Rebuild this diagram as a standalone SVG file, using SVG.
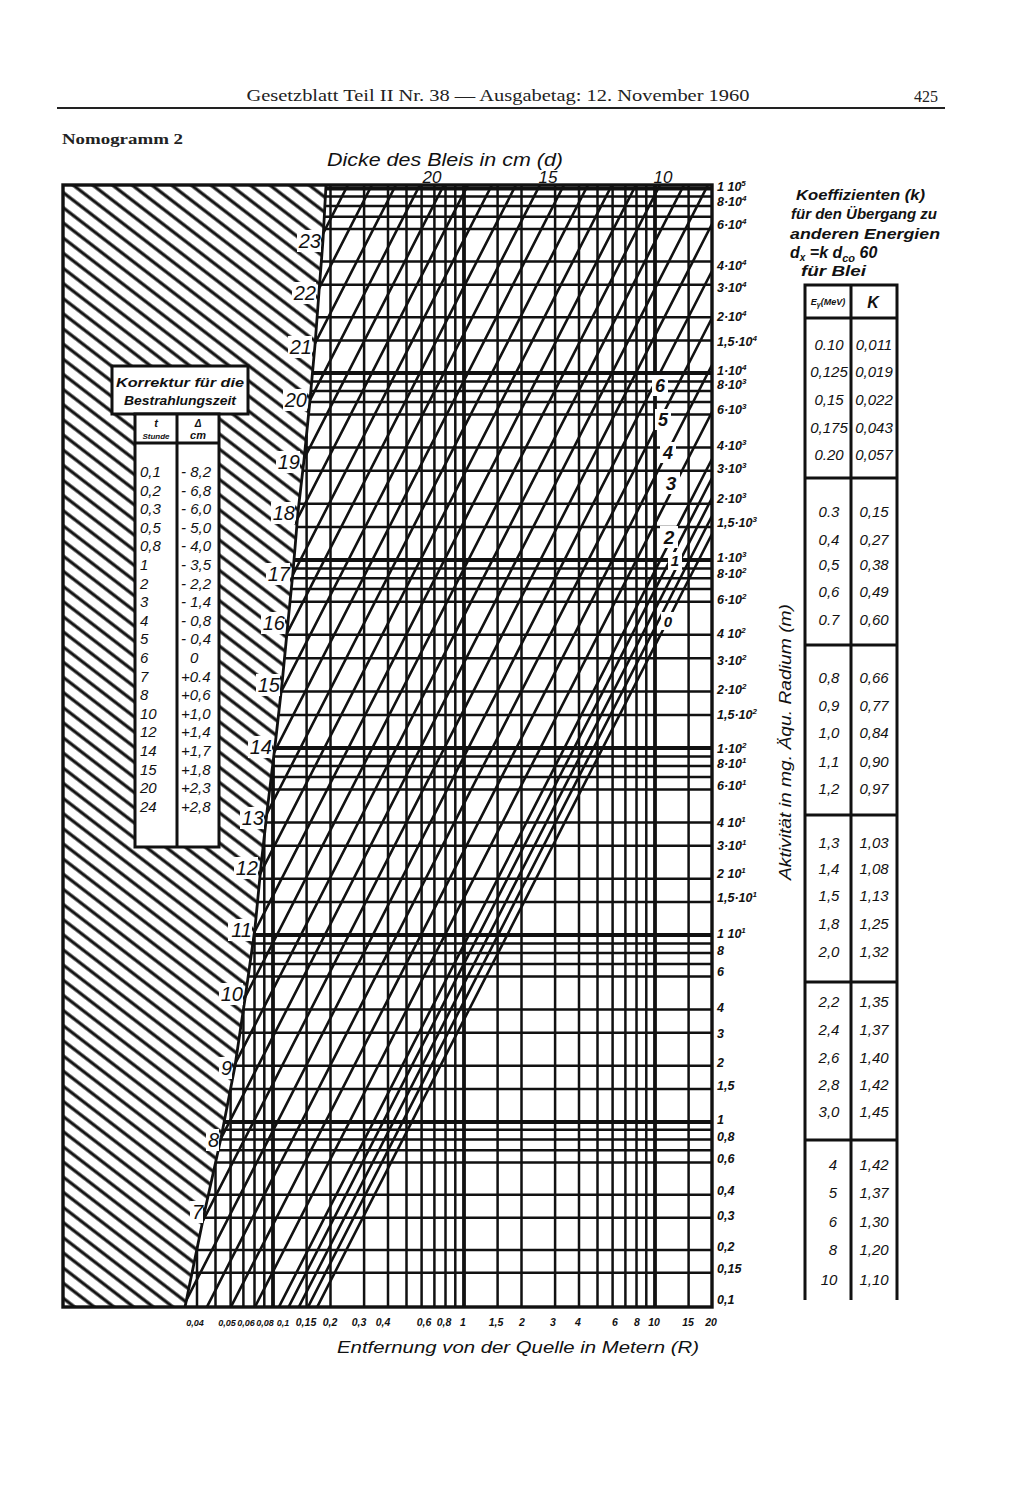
<svg xmlns="http://www.w3.org/2000/svg" width="1024" height="1485" viewBox="0 0 1024 1485">
<defs>
<style>
.hw{font-family:"Liberation Sans","DejaVu Sans",sans-serif;font-style:italic;fill:#111}
.hb{font-family:"Liberation Sans","DejaVu Sans",sans-serif;font-style:italic;font-weight:bold;fill:#111}
.ser{font-family:"Liberation Serif","DejaVu Serif",serif;fill:#222}
.ln{stroke:#111;fill:none;stroke-width:2.5}
.lk{stroke:#111;fill:none;stroke-width:3.8}
.dg{stroke:#111;fill:none;stroke-width:2.6}
.box{fill:#fff;stroke:#111;stroke-width:3}
.sup{font-size:8px}
.ax{font-size:12.5px}
.bx{font-size:10.5px}
.bs{font-size:9px}
.dl{font-size:20px}
.tv{font-size:15px}
.kv{font-size:15px}
.wbg{fill:#fff}
</style>
<pattern id="hatch" patternUnits="userSpaceOnUse" width="12" height="12" patternTransform="rotate(37.6)">
<rect width="12" height="12" fill="#fff"/>
<line x1="-1" y1="6" x2="13" y2="6" stroke="#111" stroke-width="3.2"/>
</pattern>
<clipPath id="gridclip">
<path d="M326 185 L712 185 L712 1307 L185 1307 L205 1210 L221 1138 L235 1066 L246 992 L255 928 L261 866 L267 812 L275 746 L282 684 L288 622 L293 572 L298 512 L304 460 L310 400 L315 345 L319 292 L323 240 Z"/>
</clipPath>
</defs>
<rect width="1024" height="1485" fill="#fff"/>

<g id="page-header">
<text class="ser" x="498" y="101" font-size="16" text-anchor="middle" textLength="503" lengthAdjust="spacingAndGlyphs">Gesetzblatt Teil II Nr. 38 — Ausgabetag: 12. November 1960</text>
<text class="ser" x="926" y="102" font-size="16" text-anchor="middle">425</text>
<line x1="57" y1="108" x2="945" y2="108" stroke="#222" stroke-width="2"/>
<text class="ser" x="62" y="144" font-size="15" font-weight="bold" textLength="121" lengthAdjust="spacingAndGlyphs">Nomogramm 2</text>
</g>

<g id="hatched-area">
<path d="M63 185 L326 185 L323 240 L319 292 L315 345 L310 400 L304 460 L298 512 L293 572 L288 622 L282 684 L275 746 L267 812 L261 866 L255 928 L246 992 L235 1066 L221 1138 L205 1210 L185 1307 L63 1307 Z" fill="url(#hatch)"/>
</g>

<g id="grid" clip-path="url(#gridclip)">
<path class="ln" d="M180 196.5H712M180 205.9H712M180 216.7H712M180 229H712M180 261.6H712M180 284.7H712M180 317.3H712M180 340.4H712
M180 381.6H712M180 391.1H712M180 402H712M180 414.5H712M180 447.4H712M180 470.8H712M180 503.7H712M180 527.1H712
M180 568.6H712M180 578.2H712M180 589.1H712M180 601.7H712M180 634.8H712M180 658.3H712M180 691.4H712M180 714.9H712
M180 756.6H712M180 766.1H712M180 777H712M180 789.5H712M180 822.4H712M180 845.8H712M180 878.7H712M180 902.1H712
M180 943.6H712M180 953.1H712M180 964H712M180 976.5H712M180 1009.4H712M180 1032.8H712M180 1065.7H712M180 1089.1H712
M180 1129.7H712M180 1139.5H712M180 1150.3H712M180 1162.6H712M180 1194.8H712M180 1217.7H712M180 1249.9H712M180 1272.8H712"/>
<path class="lk" d="M180 188.5H712M180 373H712M180 560H712M180 748H712M180 935H712M180 1122H712"/>
<path class="ln" d="M197 185V1307M215.5 185V1307M230.6 185V1307M243.4 185V1307M254.5 185V1307M264.3 185V1307
M306.6 185V1307M330.5 185V1307M364.1 185V1307M388 185V1307M406.5 185V1307M421.6 185V1307M434.4 185V1307M445.5 185V1307M455.3 185V1307
M497.6 185V1307M521.5 185V1307M555.1 185V1307M579 185V1307M597.5 185V1307M612.6 185V1307M625.4 185V1307M636.5 185V1307M646.3 185V1307
M688.6 185V1307"/>
<path class="lk" d="M273 185V1307M464 185V1307M655 185V1307"/>
</g>

<g id="connectors" clip-path="url(#gridclip)">
<path class="dg" d="M712 -528L150 572.4M712 -481L150 619.4M712 -434L150 666.4M712 -387L150 713.4M712 -340L150 760.4M712 -293L150 807.4
M712 -246L150 854.4M712 -199L150 901.4M712 -152L150 948.4M712 -105L150 995.4M712 -58L150 1042.4M712 -11L150 1089.4
M712 36L150 1136.4M712 83L150 1183.4M712 130L150 1230.4M712 177L150 1277.4M712 224L150 1324.4M712 271L150 1371.4
M712 318L150 1418.4M712 365L150 1465.4M712 412L150 1512.4M712 459L150 1559.4M712 478L150 1578.4M712 498L150 1598.4
M712 516L150 1616.4M712 534L150 1634.4"/>
</g>

<g id="frame">
<rect x="63" y="185" width="649" height="1122" fill="none" stroke="#111" stroke-width="3.4"/>
<path d="M326 185 L323 240 L319 292 L315 345 L310 400 L304 460 L298 512 L293 572 L288 622 L282 684 L275 746 L267 812 L261 866 L255 928 L246 992 L235 1066 L221 1138 L205 1210 L185 1307" fill="none" stroke="#111" stroke-width="2.8"/>
</g>

<g id="lead-thickness-labels">
<text class="hw" x="445" y="166" font-size="19" text-anchor="middle" textLength="236" lengthAdjust="spacingAndGlyphs">Dicke des Bleis in cm (d)</text>
<text class="hw" x="432" y="183" font-size="17" text-anchor="middle">20</text>
<text class="hw" x="548" y="183" font-size="17" text-anchor="middle">15</text>
<text class="hw" x="663" y="183" font-size="17" text-anchor="middle">10</text>
<g id="left-d-labels">
<rect class="wbg" x="297" y="230" width="24" height="22"/><text class="hw dl" x="321" y="248" text-anchor="end">23</text>
<rect class="wbg" x="292" y="282" width="24" height="22"/><text class="hw dl" x="316" y="300" text-anchor="end">22</text>
<rect class="wbg" x="288" y="336" width="24" height="22"/><text class="hw dl" x="312" y="354" text-anchor="end">21</text>
<rect class="wbg" x="283" y="389" width="24" height="22"/><text class="hw dl" x="307" y="407" text-anchor="end">20</text>
<rect class="wbg" x="276" y="451" width="24" height="22"/><text class="hw dl" x="300" y="469" text-anchor="end">19</text>
<rect class="wbg" x="271" y="502" width="24" height="22"/><text class="hw dl" x="295" y="520" text-anchor="end">18</text>
<rect class="wbg" x="266" y="563" width="24" height="22"/><text class="hw dl" x="290" y="581" text-anchor="end">17</text>
<rect class="wbg" x="261" y="612" width="24" height="22"/><text class="hw dl" x="285" y="630" text-anchor="end">16</text>
<rect class="wbg" x="256" y="674" width="24" height="22"/><text class="hw dl" x="280" y="692" text-anchor="end">15</text>
<rect class="wbg" x="248" y="736" width="24" height="22"/><text class="hw dl" x="272" y="754" text-anchor="end">14</text>
<rect class="wbg" x="240" y="807" width="24" height="22"/><text class="hw dl" x="264" y="825" text-anchor="end">13</text>
<rect class="wbg" x="234" y="857" width="24" height="22"/><text class="hw dl" x="258" y="875" text-anchor="end">12</text>
<rect class="wbg" x="228" y="919" width="24" height="22"/><text class="hw dl" x="252" y="937" text-anchor="end">11</text>
<rect class="wbg" x="219" y="983" width="24" height="22"/><text class="hw dl" x="243" y="1001" text-anchor="end">10</text>
<rect class="wbg" x="219" y="1057" width="13" height="22"/><text class="hw dl" x="232" y="1075" text-anchor="end">9</text>
<rect class="wbg" x="206" y="1129" width="13" height="22"/><text class="hw dl" x="219" y="1147" text-anchor="end">8</text>
<rect class="wbg" x="190" y="1201" width="13" height="22"/><text class="hw dl" x="203" y="1219" text-anchor="end">7</text>
</g>
<g id="right-d-labels">
<rect class="wbg" x="652" y="375" width="16" height="21"/><text class="hb" x="660" y="392" font-size="18" text-anchor="middle">6</text>
<rect class="wbg" x="655" y="409" width="16" height="21"/><text class="hb" x="663" y="426" font-size="18" text-anchor="middle">5</text>
<rect class="wbg" x="660" y="442" width="16" height="21"/><text class="hb" x="668" y="459" font-size="18" text-anchor="middle">4</text>
<rect class="wbg" x="662" y="472" width="18" height="22"/><text class="hb" x="671" y="490" font-size="19" text-anchor="middle">3</text>
<rect class="wbg" x="660" y="526" width="18" height="22"/><text class="hb" x="669" y="544" font-size="19" text-anchor="middle">2</text>
<rect class="wbg" x="668" y="552" width="14" height="18"/><text class="hb" x="675" y="566" font-size="15" text-anchor="middle">1</text>
<rect class="wbg" x="661" y="612" width="14" height="18"/><text class="hb" x="668" y="627" font-size="15" text-anchor="middle">0</text>
</g>
</g>

<g id="activity-axis">
<text class="hb ax" x="717" y="191">1 10<tspan class="sup" dy="-5">5</tspan></text>
<text class="hb ax" x="717" y="206">8·10<tspan class="sup" dy="-5">4</tspan></text>
<text class="hb ax" x="717" y="229">6·10<tspan class="sup" dy="-5">4</tspan></text>
<text class="hb ax" x="717" y="270">4·10<tspan class="sup" dy="-5">4</tspan></text>
<text class="hb ax" x="717" y="292">3·10<tspan class="sup" dy="-5">4</tspan></text>
<text class="hb ax" x="717" y="321">2·10<tspan class="sup" dy="-5">4</tspan></text>
<text class="hb ax" x="717" y="346">1,5·10<tspan class="sup" dy="-5">4</tspan></text>
<text class="hb ax" x="717" y="375">1·10<tspan class="sup" dy="-5">4</tspan></text>
<text class="hb ax" x="717" y="389">8·10<tspan class="sup" dy="-5">3</tspan></text>
<text class="hb ax" x="717" y="414">6·10<tspan class="sup" dy="-5">3</tspan></text>
<text class="hb ax" x="717" y="450">4·10<tspan class="sup" dy="-5">3</tspan></text>
<text class="hb ax" x="717" y="473">3·10<tspan class="sup" dy="-5">3</tspan></text>
<text class="hb ax" x="717" y="503">2·10<tspan class="sup" dy="-5">3</tspan></text>
<text class="hb ax" x="717" y="527">1,5·10<tspan class="sup" dy="-5">3</tspan></text>
<text class="hb ax" x="717" y="562">1·10<tspan class="sup" dy="-5">3</tspan></text>
<text class="hb ax" x="717" y="578">8·10<tspan class="sup" dy="-5">2</tspan></text>
<text class="hb ax" x="717" y="604">6·10<tspan class="sup" dy="-5">2</tspan></text>
<text class="hb ax" x="717" y="638">4 10<tspan class="sup" dy="-5">2</tspan></text>
<text class="hb ax" x="717" y="665">3·10<tspan class="sup" dy="-5">2</tspan></text>
<text class="hb ax" x="717" y="694">2·10<tspan class="sup" dy="-5">2</tspan></text>
<text class="hb ax" x="717" y="719">1,5·10<tspan class="sup" dy="-5">2</tspan></text>
<text class="hb ax" x="717" y="753">1·10<tspan class="sup" dy="-5">2</tspan></text>
<text class="hb ax" x="717" y="768">8·10<tspan class="sup" dy="-5">1</tspan></text>
<text class="hb ax" x="717" y="790">6·10<tspan class="sup" dy="-5">1</tspan></text>
<text class="hb ax" x="717" y="827">4 10<tspan class="sup" dy="-5">1</tspan></text>
<text class="hb ax" x="717" y="850">3·10<tspan class="sup" dy="-5">1</tspan></text>
<text class="hb ax" x="717" y="878">2 10<tspan class="sup" dy="-5">1</tspan></text>
<text class="hb ax" x="717" y="902">1,5·10<tspan class="sup" dy="-5">1</tspan></text>
<text class="hb ax" x="717" y="938">1 10<tspan class="sup" dy="-5">1</tspan></text>
<text class="hb ax" x="717" y="955">8</text>
<text class="hb ax" x="717" y="976">6</text>
<text class="hb ax" x="717" y="1012">4</text>
<text class="hb ax" x="717" y="1038">3</text>
<text class="hb ax" x="717" y="1067">2</text>
<text class="hb ax" x="717" y="1090">1,5</text>
<text class="hb ax" x="717" y="1124">1</text>
<text class="hb ax" x="717" y="1141">0,8</text>
<text class="hb ax" x="717" y="1163">0,6</text>
<text class="hb ax" x="717" y="1195">0,4</text>
<text class="hb ax" x="717" y="1220">0,3</text>
<text class="hb ax" x="717" y="1251">0,2</text>
<text class="hb ax" x="717" y="1273">0,15</text>
<text class="hb ax" x="717" y="1304">0,1</text>
<text class="hw" x="0" y="0" font-size="17" text-anchor="middle" transform="translate(791 742) rotate(-90)" textLength="276" lengthAdjust="spacingAndGlyphs">Aktivität in mg. Äqu. Radium (m)</text>
</g>

<g id="distance-axis">
<text class="hb bs" x="195" y="1326" text-anchor="middle">0,04</text>
<text class="hb bs" x="227" y="1326" text-anchor="middle">0,05</text>
<text class="hb bs" x="246" y="1326" text-anchor="middle">0,06</text>
<text class="hb bs" x="265" y="1326" text-anchor="middle">0,08</text>
<text class="hb bs" x="283" y="1326" text-anchor="middle">0,1</text>
<text class="hb bx" x="306" y="1326" text-anchor="middle">0,15</text>
<text class="hb bx" x="330" y="1326" text-anchor="middle">0,2</text>
<text class="hb bx" x="359" y="1326" text-anchor="middle">0,3</text>
<text class="hb bx" x="383" y="1326" text-anchor="middle">0,4</text>
<text class="hb bx" x="424" y="1326" text-anchor="middle">0,6</text>
<text class="hb bx" x="444" y="1326" text-anchor="middle">0,8</text>
<text class="hb bx" x="463" y="1326" text-anchor="middle">1</text>
<text class="hb bx" x="496" y="1326" text-anchor="middle" font-size="13">1,5</text>
<text class="hb bx" x="522" y="1326" text-anchor="middle" font-size="13">2</text>
<text class="hb bx" x="553" y="1326" text-anchor="middle" font-size="13">3</text>
<text class="hb bx" x="578" y="1326" text-anchor="middle" font-size="13">4</text>
<text class="hb bx" x="615" y="1326" text-anchor="middle" font-size="13">6</text>
<text class="hb bx" x="637" y="1326" text-anchor="middle" font-size="13">8</text>
<text class="hb bx" x="654" y="1326" text-anchor="middle" font-size="12">10</text>
<text class="hb bx" x="688" y="1326" text-anchor="middle" font-size="13">15</text>
<text class="hb bx" x="711" y="1326" text-anchor="middle" font-size="13">20</text>
<text class="hw" x="518" y="1353" font-size="17" text-anchor="middle" textLength="362" lengthAdjust="spacingAndGlyphs">Entfernung von der Quelle in Metern (R)</text>
</g>

<g id="correction-table">
<rect class="box" x="112" y="366" width="136" height="48"/>
<text class="hb" x="180" y="387" font-size="13" text-anchor="middle" textLength="128" lengthAdjust="spacingAndGlyphs">Korrektur für die</text>
<text class="hb" x="180" y="405" font-size="12" text-anchor="middle" textLength="112" lengthAdjust="spacingAndGlyphs">Bestrahlungszeit</text>
<rect class="box" x="135" y="414" width="84" height="433"/>
<line x1="177" y1="414" x2="177" y2="847" stroke="#111" stroke-width="3"/>
<line x1="135" y1="443" x2="219" y2="443" stroke="#111" stroke-width="3"/>
<text class="hb" x="156" y="427" font-size="11" text-anchor="middle">t</text>
<text class="hb" x="156" y="439" font-size="8" text-anchor="middle">Stunde</text>
<text class="hb" x="198" y="427" font-size="10" text-anchor="middle">Δ</text>
<text class="hb" x="198" y="439" font-size="11" text-anchor="middle">cm</text>
<g class="hw tv">
<text x="140" y="477">0,1</text>
<text x="140" y="495.6">0,2</text>
<text x="140" y="514.2">0,3</text>
<text x="140" y="532.8">0,5</text>
<text x="140" y="551.4">0,8</text>
<text x="140" y="570">1</text>
<text x="140" y="588.6">2</text>
<text x="140" y="607.2">3</text>
<text x="140" y="625.8">4</text>
<text x="140" y="644.4">5</text>
<text x="140" y="663">6</text>
<text x="140" y="681.6">7</text>
<text x="140" y="700.2">8</text>
<text x="140" y="718.8">10</text>
<text x="140" y="737.4">12</text>
<text x="140" y="756">14</text>
<text x="140" y="774.6">15</text>
<text x="140" y="793.2">20</text>
<text x="140" y="811.8">24</text>
<text x="181" y="477">- 8,2</text>
<text x="181" y="495.6">- 6,8</text>
<text x="181" y="514.2">- 6,0</text>
<text x="181" y="532.8">- 5,0</text>
<text x="181" y="551.4">- 4,0</text>
<text x="181" y="570">- 3,5</text>
<text x="181" y="588.6">- 2,2</text>
<text x="181" y="607.2">- 1,4</text>
<text x="181" y="625.8">- 0,8</text>
<text x="181" y="644.4">- 0,4</text>
<text x="190" y="663">0</text>
<text x="181" y="681.6">+0.4</text>
<text x="181" y="700.2">+0,6</text>
<text x="181" y="718.8">+1,0</text>
<text x="181" y="737.4">+1,4</text>
<text x="181" y="756">+1,7</text>
<text x="181" y="774.6">+1,8</text>
<text x="181" y="793.2">+2,3</text>
<text x="181" y="811.8">+2,8</text>
</g>
</g>

<g id="k-table">
<text class="hb" x="796" y="200" font-size="14" textLength="129" lengthAdjust="spacingAndGlyphs">Koeffizienten (k)</text>
<text class="hb" x="791" y="219" font-size="14" textLength="146" lengthAdjust="spacingAndGlyphs">für den Übergang zu</text>
<text class="hb" x="790" y="239" font-size="15" textLength="150" lengthAdjust="spacingAndGlyphs">anderen Energien</text>
<text class="hb" x="790" y="258" font-size="16">d<tspan font-size="10" dy="3">x</tspan><tspan dy="-3"> =k d</tspan><tspan font-size="11" dy="4">co</tspan><tspan dy="-4"> 60</tspan></text>
<text class="hb" x="801" y="276" font-size="15" textLength="65" lengthAdjust="spacingAndGlyphs">für Blei</text>
<path d="M805 1300V285H897V1300M851 285V1300M805 318H897M805 478H897M805 645H897M805 815H897M805 982H897M805 1140H897" fill="none" stroke="#111" stroke-width="3"/>
<text class="hb" x="828" y="305" font-size="9" text-anchor="middle">E<tspan font-size="7" dy="2">γ</tspan><tspan dy="-2">(MeV)</tspan></text>
<text class="hb" x="873" y="308" font-size="16" text-anchor="middle">K</text>
<g class="hw kv" text-anchor="middle">
<text x="829" y="350">0.10</text><text x="874" y="350">0,011</text>
<text x="829" y="377">0,125</text><text x="874" y="377">0,019</text>
<text x="829" y="405">0,15</text><text x="874" y="405">0,022</text>
<text x="829" y="433">0,175</text><text x="874" y="433">0,043</text>
<text x="829" y="460">0.20</text><text x="874" y="460">0,057</text>
<text x="829" y="517">0.3</text><text x="874" y="517">0,15</text>
<text x="829" y="545">0,4</text><text x="874" y="545">0,27</text>
<text x="829" y="570">0,5</text><text x="874" y="570">0,38</text>
<text x="829" y="597">0,6</text><text x="874" y="597">0,49</text>
<text x="829" y="625">0.7</text><text x="874" y="625">0,60</text>
<text x="829" y="683">0,8</text><text x="874" y="683">0,66</text>
<text x="829" y="711">0,9</text><text x="874" y="711">0,77</text>
<text x="829" y="738">1,0</text><text x="874" y="738">0,84</text>
<text x="829" y="767">1,1</text><text x="874" y="767">0,90</text>
<text x="829" y="794">1,2</text><text x="874" y="794">0,97</text>
<text x="829" y="848">1,3</text><text x="874" y="848">1,03</text>
<text x="829" y="874">1,4</text><text x="874" y="874">1,08</text>
<text x="829" y="901">1,5</text><text x="874" y="901">1,13</text>
<text x="829" y="929">1,8</text><text x="874" y="929">1,25</text>
<text x="829" y="957">2,0</text><text x="874" y="957">1,32</text>
<text x="829" y="1007">2,2</text><text x="874" y="1007">1,35</text>
<text x="829" y="1035">2,4</text><text x="874" y="1035">1,37</text>
<text x="829" y="1063">2,6</text><text x="874" y="1063">1,40</text>
<text x="829" y="1090">2,8</text><text x="874" y="1090">1,42</text>
<text x="829" y="1117">3,0</text><text x="874" y="1117">1,45</text>
<text x="833" y="1170">4</text><text x="874" y="1170">1,42</text>
<text x="833" y="1198">5</text><text x="874" y="1198">1,37</text>
<text x="833" y="1227">6</text><text x="874" y="1227">1,30</text>
<text x="833" y="1255">8</text><text x="874" y="1255">1,20</text>
<text x="829" y="1285">10</text><text x="874" y="1285">1,10</text>
</g>
</g>
</svg>
